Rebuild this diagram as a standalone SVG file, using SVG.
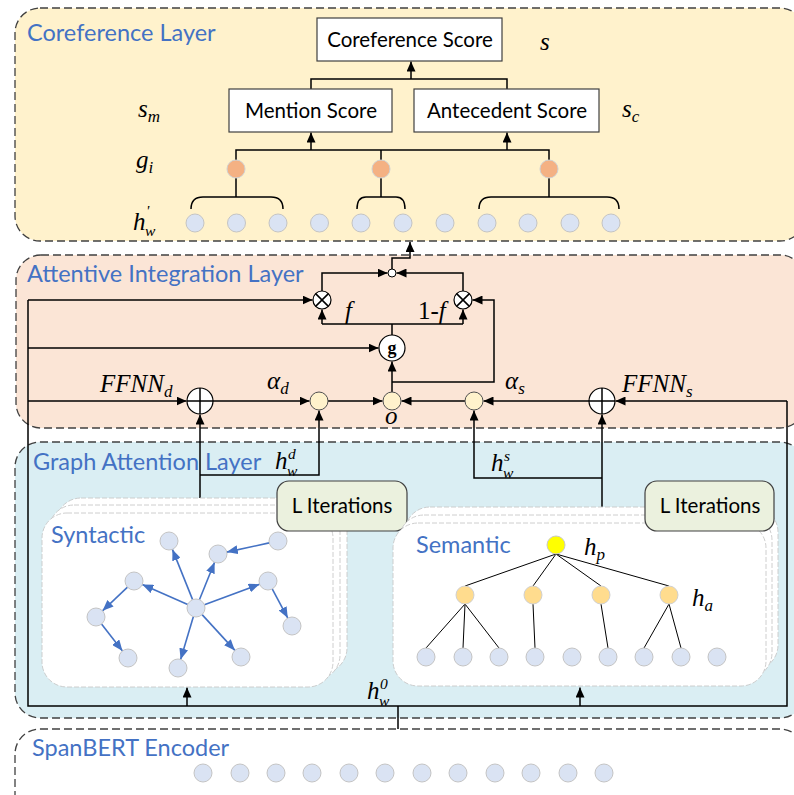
<svg xmlns="http://www.w3.org/2000/svg" width="794" height="795" viewBox="0 0 794 795">
  <defs>
    <marker id="arr" markerUnits="userSpaceOnUse" markerWidth="10" markerHeight="9" refX="10" refY="4.5" orient="auto">
      <path d="M0,0 L10,4.5 L0,9 z" fill="#000"/>
    </marker>
    <marker id="arrBlue" markerUnits="userSpaceOnUse" markerWidth="11" markerHeight="9" refX="11" refY="4.5" orient="auto">
      <path d="M0,0 L11,4.5 L0,9 z" fill="#4472C4"/>
    </marker>
    <style>
      .layer { stroke: #404040; stroke-width: 1.3; stroke-dasharray: 8 4; }
      .title { font-family: Lato, "Liberation Sans", sans-serif; font-size: 23.5px; fill: #4472C4; }
      .box { fill: #fff; stroke: #404040; stroke-width: 1.2; }
      .boxtxt { font-family: Lato, "Liberation Sans", sans-serif; font-size: 20.5px; fill: #000; text-anchor: middle; }
      .iter { fill: #EBF1DE; stroke: #404040; stroke-width: 1.2; }
      .math { font-family: "Liberation Serif", "DejaVu Serif", serif; font-style: italic; font-size: 25px; fill: #000; }
      .idx { font-family: "Liberation Serif", "DejaVu Serif", serif; font-style: italic; font-size: 15.5px; fill: #000; }
      .up { font-family: "Liberation Serif", "DejaVu Serif", serif; font-style: normal; }
      .tok { fill: #DAE3F3; stroke: #C4C4C4; stroke-width: 1; }
      .span { fill: #F4B183; stroke: #D0D0D0; stroke-width: 1; }
      .cream { fill: #FFF2CC; stroke: #505050; stroke-width: 1; }
      .op { fill: #fff; stroke: #000; stroke-width: 1.2; }
      .card { fill: #fff; stroke: #C8C8C8; stroke-width: 0.9; stroke-dasharray: 5 2; }
      .wire { fill: none; stroke: #000; stroke-width: 1.5; }
      .arrow { fill: none; stroke: #000; stroke-width: 1.5; marker-end: url(#arr); }
      .dep { fill: none; stroke: #4472C4; stroke-width: 1.6; marker-end: url(#arrBlue); }
      .tree { fill: none; stroke: #000; stroke-width: 1; }
    </style>
  </defs>

  <!-- layer panels -->
  <g id="coreference-layer">
    <rect class="layer" x="15" y="8" width="790" height="233" rx="25" fill="#FFF2CC"/>
    <text class="title" x="27" y="41">Coreference Layer</text>
  </g>
  <g id="attentive-layer">
    <rect class="layer" x="16" y="255" width="789" height="173" rx="25" fill="#FBE5D6"/>
    <text class="title" x="27" y="282">Attentive Integration Layer</text>
  </g>
  <g id="graph-layer">
    <rect class="layer" x="15" y="442" width="790" height="276" rx="25" fill="#DAEEF3"/>
    <text class="title" x="33" y="470">Graph Attention Layer</text>
  </g>
  <g id="spanbert-layer">
    <rect class="layer" x="15" y="729" width="790" height="90" rx="25" fill="#fff"/>
    <text class="title" x="32" y="756">SpanBERT Encoder</text>
  </g>

  <!-- connectors -->
  <g id="connectors">
    <!-- coreference scoring -->
    <path class="wire" d="M311,89 V79 H507 V89"/>
    <path class="arrow" d="M411,79 V61.5"/>
    <path class="wire" d="M236,160 V150 H549 V160 M381,150 V160"/>
    <path class="arrow" d="M311,150 V132.5"/>
    <path class="arrow" d="M507,150 V132.5"/>
    <!-- span braces -->
    <path class="wire" d="M236,178 V197 M191,209 Q191,197 203,197 H271 Q283,197 283,209"/>
    <path class="wire" d="M381,178 V197 M357,209 Q357,197 366,197 H396 Q405,197 405,209"/>
    <path class="wire" d="M549,178 V197 M479,209 Q479,197 491,197 H607 Q619,197 619,209"/>

    <!-- gated fusion -->
    <path class="arrow" d="M392,269 V258 H410 V242"/>
    <path class="arrow" d="M322,291 V273 H387.5"/>
    <path class="arrow" d="M463,291 V273 H396.5"/>
    <path class="wire" d="M392,335 V324 M322,324 H463"/>
    <path class="arrow" d="M322,324 V309.5"/>
    <path class="arrow" d="M463,324 V309.5"/>
    <path class="wire" d="M28,300 V706 H787 V401"/>
    <path class="arrow" d="M28,300 H312.5"/>
    <path class="arrow" d="M28,348 H378.5"/>
    <path class="arrow" d="M28,401 H186.5"/>
    <path class="arrow" d="M213,401 H309.5"/>
    <path class="arrow" d="M328,401 H382.5"/>
    <path class="arrow" d="M392,392 V361.5"/>
    <path class="arrow" d="M392,382 H494 V300 H472.5"/>
    <path class="arrow" d="M787,401 H615.5"/>
    <path class="arrow" d="M589,401 H483.5"/>
    <path class="arrow" d="M465,401 H401.5"/>

    <!-- graph encoder outputs -->
    <path class="arrow" d="M200,498 V414.5"/>
    <path class="arrow" d="M200,475 H319 V410.5"/>
    <path class="arrow" d="M602,507 V414.5"/>
    <path class="arrow" d="M602,478 H474 V410.5"/>

    <!-- encoder input to both graphs -->
    <path class="arrow" d="M187,706 V687.5"/>
    <path class="arrow" d="M580,706 V687.5"/>
    <path class="wire" d="M398,706 V729"/>
  </g>

  <!-- coreference layer nodes -->
  <g id="coreference-score">
    <rect class="box" x="317" y="18" width="185" height="43"/>
    <text class="boxtxt" x="410" y="47">Coreference Score</text>
  </g>
  <g id="mention-score">
    <rect class="box" x="229" y="89" width="163" height="43"/>
    <text class="boxtxt" x="311" y="118">Mention Score</text>
  </g>
  <g id="antecedent-score">
    <rect class="box" x="414" y="89" width="185" height="43"/>
    <text class="boxtxt" x="507" y="118">Antecedent Score</text>
  </g>
  <g id="coref-labels">
    <text class="math" x="540" y="50">s</text>
    <text class="math" x="138" y="117">s<tspan font-size="17" dy="5">m</tspan></text>
    <text class="math" x="622" y="117">s<tspan font-size="17" dy="5">c</tspan></text>
    <text class="math" x="136" y="168">g<tspan font-size="17" dy="5">i</tspan></text>
    <text class="math" x="133" y="230">h</text>
    <text class="idx" x="146" y="216">'</text>
    <text class="idx" x="145" y="236">w</text>
  </g>
  <g id="span-representations">
    <circle class="span" cx="236" cy="169" r="9"/>
    <circle class="span" cx="381" cy="169" r="9"/>
    <circle class="span" cx="549" cy="169" r="9"/>
  </g>
  <g id="refined-tokens">
    <circle class="tok" cx="195" cy="223" r="9"/>
    <circle class="tok" cx="236.5" cy="223" r="9"/>
    <circle class="tok" cx="278" cy="223" r="9"/>
    <circle class="tok" cx="319.5" cy="223" r="9"/>
    <circle class="tok" cx="361" cy="223" r="9"/>
    <circle class="tok" cx="403" cy="223" r="9"/>
    <circle class="tok" cx="445" cy="223" r="9"/>
    <circle class="tok" cx="487" cy="223" r="9"/>
    <circle class="tok" cx="528" cy="223" r="9"/>
    <circle class="tok" cx="570" cy="223" r="9"/>
    <circle class="tok" cx="611" cy="223" r="9"/>
  </g>

  <!-- attentive integration nodes -->
  <g id="sum-node">
    <circle cx="392" cy="273" r="4" fill="#fff" stroke="#000" stroke-width="1"/>
  </g>
  <g id="mul-left">
    <circle class="op" cx="322" cy="300" r="9"/>
    <path class="wire" stroke-width="1.2" d="M315.6,293.6 L328.4,306.4 M328.4,293.6 L315.6,306.4"/>
  </g>
  <g id="mul-right">
    <circle class="op" cx="463" cy="300" r="9"/>
    <path class="wire" stroke-width="1.2" d="M456.6,293.6 L469.4,306.4 M469.4,293.6 L456.6,306.4"/>
  </g>
  <g id="gate">
    <circle class="op" cx="392" cy="348" r="13"/>
    <text x="392" y="354" text-anchor="middle" font-family="'Liberation Serif', serif" font-weight="bold" font-size="18">g</text>
  </g>
  <g id="gate-labels">
    <text class="math" font-size="20" x="345" y="319">f</text>
    <text class="math" font-size="20" x="418" y="319"><tspan class="up">1-</tspan>f</text>
  </g>
  <g id="ffnn-d">
    <circle class="op" cx="200" cy="401" r="13"/>
    <path class="wire" stroke-width="1.2" d="M200,388 V414 M187,401 H213"/>
    <text class="math" x="100" y="392">FFNN<tspan font-size="17" dy="5">d</tspan></text>
  </g>
  <g id="alpha-d">
    <circle class="cream" cx="319" cy="401" r="9"/>
    <text class="math" x="267" y="389">α<tspan font-size="17" dy="5">d</tspan></text>
  </g>
  <g id="fusion-o">
    <circle class="cream" cx="392" cy="401" r="9"/>
    <text class="math" x="385" y="424">o</text>
  </g>
  <g id="alpha-s">
    <circle class="cream" cx="474" cy="401" r="9"/>
    <text class="math" x="505" y="389">α<tspan font-size="17" dy="5">s</tspan></text>
  </g>
  <g id="ffnn-s">
    <circle class="op" cx="602" cy="401" r="13"/>
    <path class="wire" stroke-width="1.2" d="M602,388 V414 M589,401 H615"/>
    <text class="math" x="622" y="392">FFNN<tspan font-size="17" dy="5">s</tspan></text>
  </g>
  <g id="graph-outputs">
    <text class="math" x="275" y="469">h</text>
    <text class="idx" x="288" y="459">d</text>
    <text class="idx" x="287" y="476">w</text>
    <text class="math" x="491" y="471">h</text>
    <text class="idx" x="504" y="461">s</text>
    <text class="idx" x="503" y="478">w</text>
    <text class="math" x="367" y="699">h</text>
    <text class="idx" x="380" y="689">0</text>
    <text class="idx" x="379" y="706">w</text>
  </g>

  <!-- syntactic graph -->
  <g id="syntactic-graph">
    <rect class="card" x="56" y="498" width="291" height="175" rx="25"/>
    <rect class="card" x="49" y="505" width="291" height="175" rx="25"/>
    <rect class="card" x="42" y="513" width="291" height="174" rx="25"/>
    <text class="title" font-size="17.5" x="51" y="543">Syntactic</text>
    <path class="dep" d="M192.6,599.6 L172.4,549.4"/>
    <path class="dep" d="M199.4,599.7 L214.6,562.3"/>
    <path class="dep" d="M269.2,542.9 L226.8,552.1"/>
    <path class="dep" d="M187.7,604.4 L142.3,584.6"/>
    <path class="dep" d="M204.4,604.8 L259.6,584.2"/>
    <path class="dep" d="M127.5,587.2 L102.5,610.8"/>
    <path class="dep" d="M272.2,588.9 L287.8,618.1"/>
    <path class="dep" d="M101.5,624.1 L122.5,650.9"/>
    <path class="dep" d="M193.4,616.6 L180.6,659.4"/>
    <path class="dep" d="M202.1,614.6 L234.9,650.4"/>
    <circle class="tok" cx="169" cy="541" r="9"/>
    <circle class="tok" cx="218" cy="554" r="9"/>
    <circle class="tok" cx="278" cy="541" r="9"/>
    <circle class="tok" cx="134" cy="581" r="9"/>
    <circle class="tok" cx="268" cy="581" r="9"/>
    <circle class="tok" cx="196" cy="608" r="9"/>
    <circle class="tok" cx="96" cy="617" r="9"/>
    <circle class="tok" cx="292" cy="626" r="9"/>
    <circle class="tok" cx="128" cy="658" r="9"/>
    <circle class="tok" cx="178" cy="668" r="9"/>
    <circle class="tok" cx="241" cy="657" r="9"/>
  </g>
  <g id="iterations-left">
    <rect class="iter" x="277" y="481" width="130" height="50" rx="12"/>
    <text class="boxtxt" x="342" y="513">L Iterations</text>
  </g>

  <!-- semantic graph -->
  <g id="semantic-graph">
    <rect class="card" x="405" y="507" width="373" height="163" rx="25"/>
    <rect class="card" x="399" y="515" width="373" height="163" rx="25"/>
    <rect class="card" x="393" y="523" width="373" height="163" rx="25"/>
    <text class="title" font-size="17.8" x="416" y="553">Semantic</text>
    <path class="tree" d="M556,554 L465,586 M556,554 L533,586 M556,554 L601,586 M556,554 L669,586"/>
    <path class="tree" d="M465,604 L426,648 M465,604 L463,648 M465,604 L499,648 M533,604 L535,648 M601,604 L608,648 M669,604 L644,648 M669,604 L681,648"/>
    <circle cx="556" cy="545" r="9" fill="#FFFF00" stroke="#C8C8C8" stroke-width="1"/>
    <circle cx="465" cy="595" r="9" fill="#FFDC8E" stroke="#D0D0D0" stroke-width="1"/>
    <circle cx="533" cy="595" r="9" fill="#FFDC8E" stroke="#D0D0D0" stroke-width="1"/>
    <circle cx="601" cy="595" r="9" fill="#FFDC8E" stroke="#D0D0D0" stroke-width="1"/>
    <circle cx="669" cy="595" r="9" fill="#FFDC8E" stroke="#D0D0D0" stroke-width="1"/>
    <circle class="tok" cx="426" cy="657" r="9"/>
    <circle class="tok" cx="463" cy="657" r="9"/>
    <circle class="tok" cx="499" cy="657" r="9"/>
    <circle class="tok" cx="535" cy="657" r="9"/>
    <circle class="tok" cx="572" cy="657" r="9"/>
    <circle class="tok" cx="608" cy="657" r="9"/>
    <circle class="tok" cx="644" cy="657" r="9"/>
    <circle class="tok" cx="681" cy="657" r="9"/>
    <circle class="tok" cx="717" cy="657" r="9"/>
    <text class="math" x="584" y="555">h<tspan font-size="17" dy="5">p</tspan></text>
    <text class="math" x="692" y="606">h<tspan font-size="17" dy="5">a</tspan></text>
  </g>
  <g id="iterations-right">
    <rect class="iter" x="645" y="481" width="129" height="50" rx="12"/>
    <text class="boxtxt" x="710" y="513">L Iterations</text>
  </g>

  <!-- SpanBERT token embeddings -->
  <g id="spanbert-tokens">
    <circle class="tok" cx="203" cy="773" r="9"/>
    <circle class="tok" cx="240" cy="773" r="9"/>
    <circle class="tok" cx="276" cy="773" r="9"/>
    <circle class="tok" cx="312" cy="773" r="9"/>
    <circle class="tok" cx="349" cy="773" r="9"/>
    <circle class="tok" cx="385" cy="773" r="9"/>
    <circle class="tok" cx="422" cy="773" r="9"/>
    <circle class="tok" cx="458" cy="773" r="9"/>
    <circle class="tok" cx="495" cy="773" r="9"/>
    <circle class="tok" cx="531" cy="773" r="9"/>
    <circle class="tok" cx="568" cy="773" r="9"/>
    <circle class="tok" cx="604" cy="773" r="9"/>
  </g>
</svg>
